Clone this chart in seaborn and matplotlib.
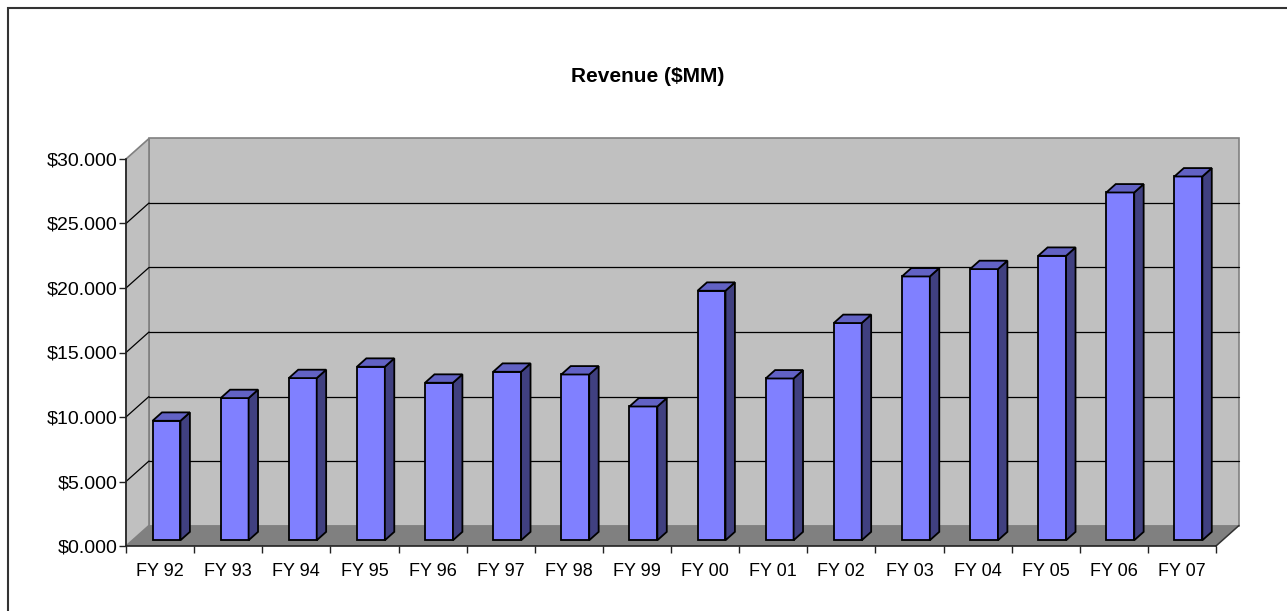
import numpy as np
import matplotlib.pyplot as plt
import seaborn as sns
from matplotlib.patches import Polygon, Rectangle

# dados
anos = ['FY 92', 'FY 93', 'FY 94', 'FY 95', 'FY 96', 'FY 97', 'FY 98', 'FY 99',
        'FY 00', 'FY 01', 'FY 02', 'FY 03', 'FY 04', 'FY 05', 'FY 06', 'FY 07']
receita = [9.26, 11.02, 12.57, 13.45, 12.21, 13.06, 12.85, 10.37,
           19.34, 12.54, 16.84, 20.45, 21.02, 22.05, 26.96, 28.20]
ticks_y = [0, 5, 10, 15, 20, 25, 30]
titulo = 'Revenue ($MM)'

sns.set_style('white')
plt.rcParams['font.family'] = ['Liberation Sans', 'DejaVu Sans']
plt.rcParams['text.color'] = 'black'
plt.rcParams['xtick.labelcolor'] = 'black'
plt.rcParams['ytick.labelcolor'] = 'black'

W, H = 1287, 611
fig = plt.figure(figsize=(W / 100, H / 100), dpi=100)
ax = fig.add_axes([126 / W, (H - 546) / H, (1216 - 126) / W, (546 - 159) / H])
ax.set_facecolor('none')

sns.barplot(x=anos, y=receita, ax=ax, color='#8080FF', saturation=1,
            width=0.41, edgecolor='black', linewidth=1.3, zorder=5)
n = len(anos)
ax.set_xlim(-0.5, n - 0.5)
ax.set_ylim(0, 30)

# profundidade do "3D" em unidades de dados
ppx = (1216 - 126) / n
ppy = (546 - 159) / 30
dx, dy = 23 / ppx, 20.5 / ppy
x0, x1 = -0.5, n - 0.5

# paredes e piso
ax.add_patch(Polygon([(x0 + dx, dy), (x1 + dx, dy), (x1 + dx, 30 + dy), (x0 + dx, 30 + dy)],
                     closed=True, facecolor='#C0C0C0', edgecolor='#808080', lw=1.2,
                     clip_on=False, zorder=0))
ax.add_patch(Polygon([(x0, 0), (x0, 30), (x0 + dx, 30 + dy), (x0 + dx, dy)],
                     closed=True, facecolor='#C0C0C0', edgecolor='#808080', lw=1.2,
                     clip_on=False, zorder=0))
ax.add_patch(Polygon([(x0, 0), (x1, 0), (x1 + dx, dy), (x0 + dx, dy)],
                     closed=True, facecolor='#808080', edgecolor='none',
                     clip_on=False, zorder=0.5))
ax.plot([x1, x1 + dx], [0, dy], color='#333333', lw=1.1, clip_on=False, zorder=1)

# linhas de grade na parede de fundo e lateral
for v in ticks_y[1:-1]:
    ax.plot([x0 + dx, x1 + dx], [v + dy, v + dy], color='black', lw=0.9, clip_on=False, zorder=1)
    ax.plot([x0, x0 + dx], [v, v + dy], color='black', lw=0.9, clip_on=False, zorder=1)

# barras com face lateral e topo
fx, fy = 0.28 * dx, 0.28 * dy
bdx, bdy = 0.41 * dx, 0.41 * dy
for p in list(ax.patches):
    if not isinstance(p, Rectangle):
        continue
    h = p.get_height()
    p.set_x(p.get_x() + fx)
    p.set_y(fy)
    xa, w = p.get_x(), p.get_width()
    lado = [(xa + w, fy), (xa + w + bdx, fy + bdy), (xa + w + bdx, fy + h + bdy), (xa + w, fy + h)]
    topo = [(xa, fy + h), (xa + bdx, fy + h + bdy), (xa + w + bdx, fy + h + bdy), (xa + w, fy + h)]
    ax.add_patch(Polygon(lado, closed=True, facecolor='#404080', edgecolor='black',
                         lw=1.3, clip_on=False, zorder=5))
    ax.add_patch(Polygon(topo, closed=True, facecolor='#6262C4', edgecolor='black',
                         lw=1.3, clip_on=False, zorder=5))

# eixos
for s in ['top', 'right']:
    ax.spines[s].set_visible(False)
for s in ['left', 'bottom']:
    ax.spines[s].set_color('#222222')
    ax.spines[s].set_linewidth(1.2)
ax.set_yticks(ticks_y)
ax.set_yticklabels([f'${v:.3f}' for v in ticks_y], fontsize=14)
ax.tick_params(axis='y', left=True, length=5, width=1, color='#222222', pad=1, labelcolor='black')
ax.set_xticks(range(n))
ax.set_xticklabels(anos, fontsize=13)
ax.set_xticks(np.arange(-0.5, n, 1), minor=True)
ax.tick_params(axis='x', which='major', length=0, pad=12, labelcolor='black')
ax.tick_params(axis='x', which='minor', bottom=True, length=5, width=1, color='#222222')
ax.set_xlabel('')
ax.set_ylabel('')

fig.text(648 / W, 1 - 77 / H, titulo, fontsize=15, fontweight='bold', ha='center', va='center',
         color='black')

# moldura
fig.add_artist(Rectangle((8 / W, -0.1), 1.2, (H - 7.5) / H + 0.1, transform=fig.transFigure,
                         fill=False, edgecolor='#333333', lw=1.5))

fig.savefig('out.png', dpi=100)
